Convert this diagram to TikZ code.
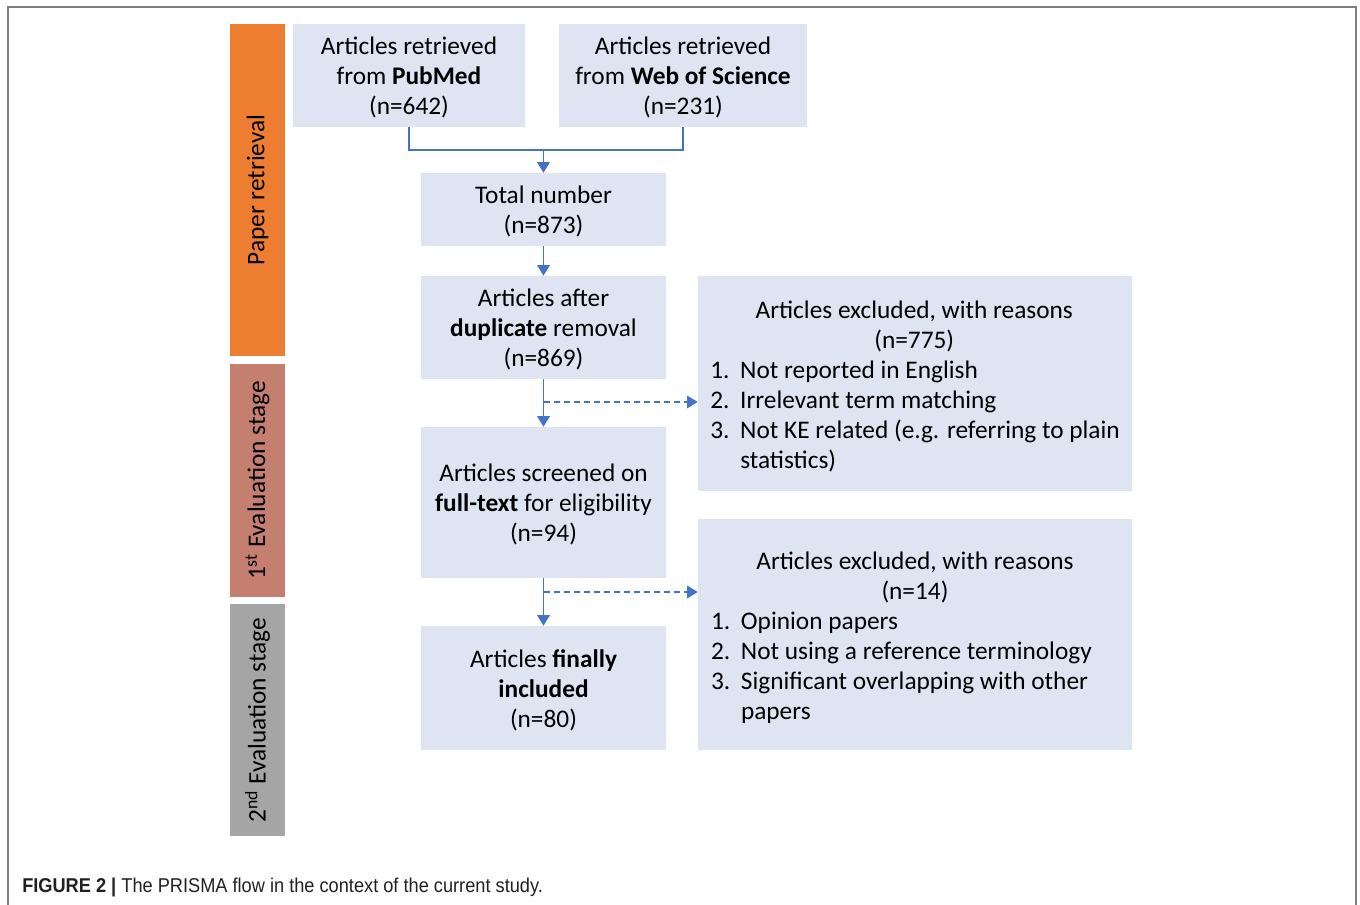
\documentclass[tikz,border=0pt]{standalone}
\usepackage{fontspec}
\setmainfont{Carlito}
\newfontfamily\capfont[FakeStretch=0.91]{Liberation Sans}
\usepackage{tikz}
\usetikzlibrary{arrows.meta}
\definecolor{boxblue}{HTML}{DEE4F2}
\definecolor{linkblue}{HTML}{4472C4}
\definecolor{retrorange}{HTML}{ED7D31}
\definecolor{firstred}{HTML}{C47F70}
\definecolor{secondgray}{HTML}{A5A5A5}
\definecolor{framegray}{HTML}{808080}
\definecolor{captext}{HTML}{231F20}
\newcommand{\flowfont}{\fontsize{19}{22.5}\selectfont}
\newcommand{\toppad}{\rule{0pt}{16.5pt}}
\newcommand{\exclist}[1]{\raisebox{0pt}[\dimexpr\height+5.5pt\relax][\depth]{%
    \begin{tabular}{@{}p{22.5pt}@{}l@{}}#1\end{tabular}}}
\newcommand{\exclhead}[1]{\multicolumn{2}{@{}l@{}}{\makebox[306pt]{#1}}}
\tikzset{
    flowbox/.style={fill=boxblue, align=center, inner sep=0pt, font=\flowfont},
    stagebar/.style={rotate=90, inner sep=0pt, minimum height=41.25pt, font=\flowfont},
    flowlink/.style={linkblue, line width=1.1pt},
    flowarrow/.style={flowlink, -{Triangle[length=8pt,width=9.5pt]}},
    skiparrow/.style={linkblue, line width=0.9pt, dash pattern=on 5pt off 2.5pt, -{Triangle[length=8pt,width=9.5pt]}}
}
\begin{document}
\begin{tikzpicture}[x=0.75pt, y=-0.75pt]
        \useasboundingbox (0,0) rectangle (1360,905);
        \draw[framegray, line width=1.5pt] (8,905) -- (8,7) -- (1356,7) -- (1356,905);
        % stages
        \node[stagebar, fill=retrorange, minimum width=249pt]    (retrieval) at (257.5,190.0) {Paper retrieval};
        \node[stagebar, fill=firstred,   minimum width=174.75pt] (firststage) at (257.5,480.5) {1\textsuperscript{st} Evaluation stage};
        \node[stagebar, fill=secondgray, minimum width=174pt]    (secondstage) at (257.5,720.0) {2\textsuperscript{nd} Evaluation stage};
        % flow boxes
        \node[flowbox, minimum width=174pt,    minimum height=77.25pt]  (pubmed) at (409.0, 75.5) {\toppad Articles retrieved\\from \textbf{PubMed}\\(n=642)};
        \node[flowbox, minimum width=186pt,    minimum height=77.25pt]  (wos)    at (683.0, 75.5) {\toppad Articles retrieved\\from \textbf{Web of Science}\\(n=231)};
        \node[flowbox, minimum width=183.75pt, minimum height=54.75pt]  (total)  at (543.5,209.5) {\toppad Total number\\(n=873)};
        \node[flowbox, minimum width=183.75pt, minimum height=77.25pt]  (dedup)  at (543.5,327.5) {\toppad Articles after\\\textbf{duplicate} removal\\(n=869)};
        \node[flowbox, minimum width=183.75pt, minimum height=113.25pt] (fulltext) at (543.5,502.5) {\toppad Articles screened on\\\textbf{full-text} for eligibility\\(n=94)};
        \node[flowbox, minimum width=183.75pt, minimum height=93pt]     (final)  at (543.5,688.0) {\toppad Articles \textbf{finally}\\\textbf{included}\\(n=80)};
        \node[flowbox, minimum width=325.5pt,  minimum height=161.25pt] (excla)  at (915.0,383.5) {\exclist{%
            \exclhead{Articles excluded, with reasons}\\
            \exclhead{(n=775)}\\
            1. & Not reported in English\\
            2. & Irrelevant term matching\\
            3. & Not KE related (e.g. referring to plain\\
               & statistics)}};
        \node[flowbox, minimum width=325.5pt,  minimum height=173.25pt] (exclb)  at (915.0,634.5) {\exclist{%
            \exclhead{Articles excluded, with reasons}\\
            \exclhead{(n=14)}\\
            1. & Opinion papers\\
            2. & Not using a reference terminology\\
            3. & Significant overlapping with other\\
               & papers}};
        % connectors
        \coordinate (merge) at (543.5,150.0);
        \coordinate (skipa) at (543.5,402.0);
        \coordinate (skipb) at (543.5,592.0);
        \draw[flowlink]  (pubmed.south) |- (merge) -| (wos.south);
        \draw[flowarrow] (merge) -- (total.north);
        \draw[flowarrow] (total) -- (dedup);
        \draw[flowarrow] (dedup) -- (fulltext);
        \draw[flowarrow] (fulltext) -- (final);
        \draw[skiparrow] (skipa) -- (skipa -| excla.west);
        \draw[skiparrow] (skipb) -- (skipb -| exclb.west);
        % caption
        \node[anchor=base west, inner sep=0pt, text=captext, font=\capfont\fontsize{15}{18}\selectfont] (caption) at (22,892)
            {\textbf{FIGURE 2 |} The PRISMA flow in the context of the current study.};
\end{tikzpicture}
\end{document}
